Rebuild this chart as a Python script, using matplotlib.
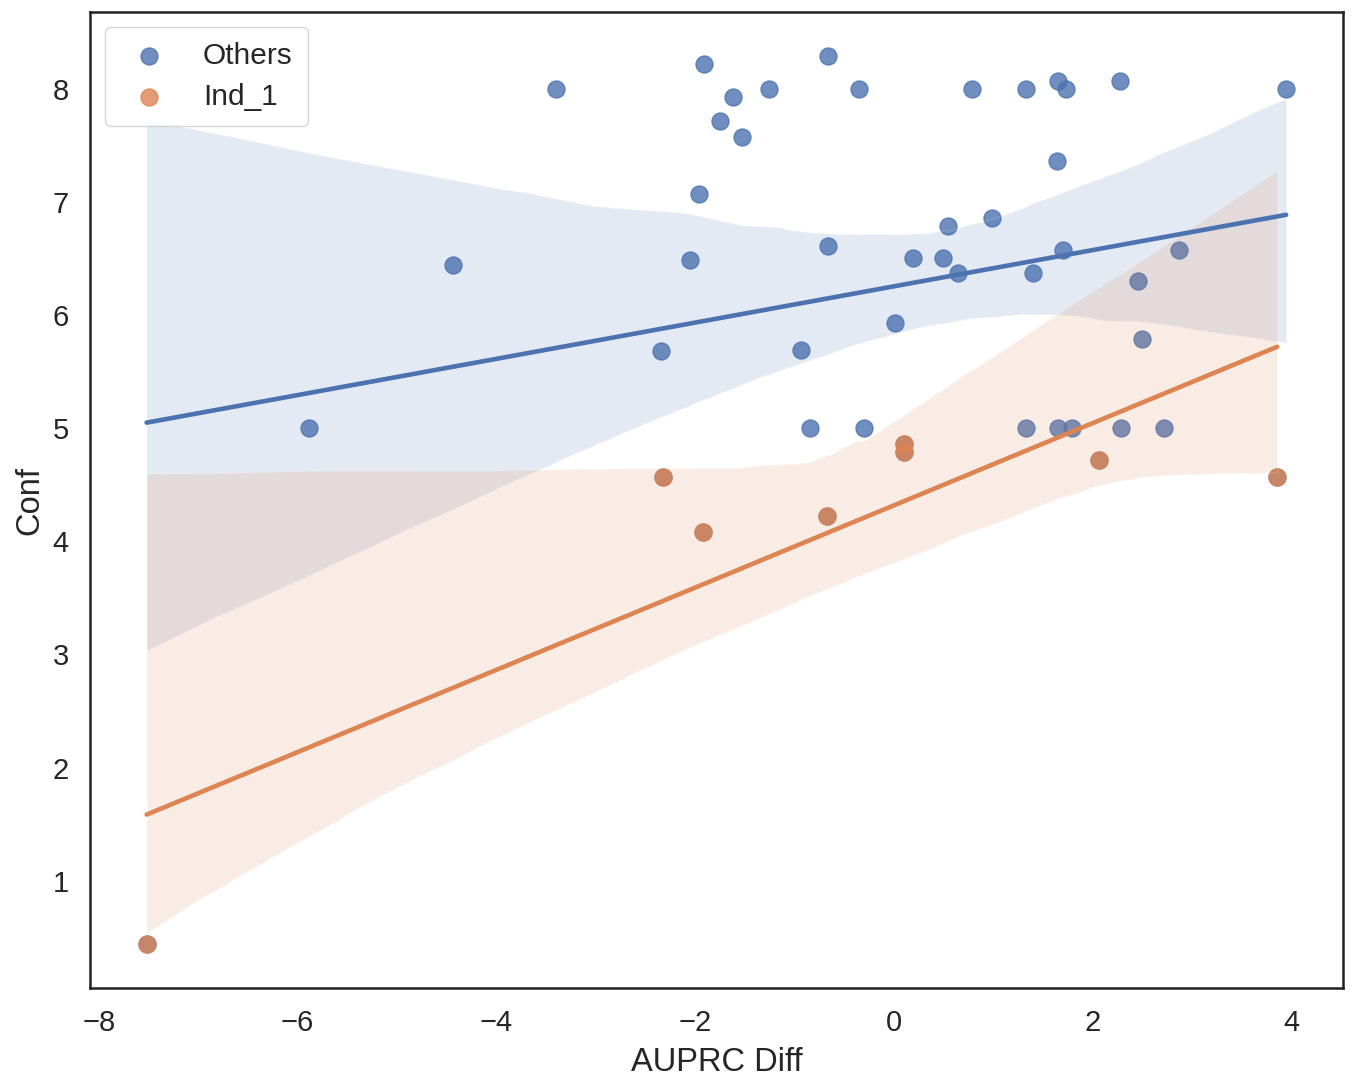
import matplotlib
matplotlib.use("Agg")
import matplotlib.pyplot as plt
import numpy as np
import seaborn as sns

# AUPRC diff vs confidence
# points only in the "Others" (blue) group
others_x = [-3.40, -4.44, -5.89, -1.91, -1.62, -1.75, -1.53, -1.25, -0.66, -0.35,
            -1.96, -2.05, -2.34, -0.66, -0.93, -0.84, -0.30, 0.01, 0.19, 0.50,
            0.55, 0.65, 0.99, 0.79, 1.33, 1.65, 1.73, 2.28, 3.95, 1.64,
            1.70, 1.40, 2.46, 2.50, 2.87, 1.33, 1.65, 1.79, 2.29, 2.72]
others_y = [8.00, 6.44, 5.00, 8.22, 7.93, 7.72, 7.58, 8.00, 8.29, 8.00,
            7.07, 6.49, 5.68, 6.61, 5.69, 5.00, 5.00, 5.93, 6.51, 6.51,
            6.79, 6.37, 6.86, 8.00, 8.00, 8.07, 8.00, 8.07, 8.00, 7.36,
            6.58, 6.37, 6.30, 5.79, 6.58, 5.00, 5.00, 5.00, 5.00, 5.00]
# Ind_1 points (these are part of the blue set too, drawn underneath)
ind1_x = [-7.52, -2.32, -1.92, -0.67, 0.10, 0.10, 2.07, 3.86]
ind1_y = [0.44, 4.57, 4.08, 4.22, 4.86, 4.79, 4.72, 4.57]

sns.set_theme(style="white")
plt.rcParams['font.family'] = ['Liberation Sans', 'DejaVu Sans']

blue, orange = sns.color_palette("deep")[:2]

all_x = np.array(others_x + ind1_x)
all_y = np.array(others_y + ind1_y)

fig = plt.figure(figsize=(13.58, 10.86), dpi=100)
ax = fig.add_axes([0.066, 0.090, 0.923, 0.899])

sns.regplot(x=all_x, y=all_y, ax=ax, color=blue, truncate=True, seed=3,
            label="Others", scatter_kws={"s": 150}, line_kws={"lw": 3.3})
sns.regplot(x=np.array(ind1_x), y=np.array(ind1_y), ax=ax, color=orange,
            truncate=True, seed=3, label="Ind_1",
            scatter_kws={"s": 150}, line_kws={"lw": 3.3})

# limits from the scatter data with 5% margins
xspan = all_x.max() - all_x.min()
yspan = all_y.max() - all_y.min()
ax.set_xlim(all_x.min() - 0.05 * xspan, all_x.max() + 0.05 * xspan)
ax.set_ylim(all_y.min() - 0.05 * yspan, all_y.max() + 0.05 * yspan)

ax.set_xticks([-8, -6, -4, -2, 0, 2, 4])
ax.set_yticks([1, 2, 3, 4, 5, 6, 7, 8])
ax.tick_params(labelsize=21, pad=9)
ax.set_xlabel("AUPRC Diff", fontsize=23.5, labelpad=7)
ax.set_ylabel("Conf", fontsize=23.5, labelpad=5)
for s in ax.spines.values():
    s.set_color("#222222")
    s.set_linewidth(1.8)

ax.legend(loc="upper left", fontsize=21.5, markerscale=1.0, borderpad=0.5,
          handletextpad=0.8, labelspacing=0.45, borderaxespad=0.5)

fig.savefig("out.png", dpi=100)
